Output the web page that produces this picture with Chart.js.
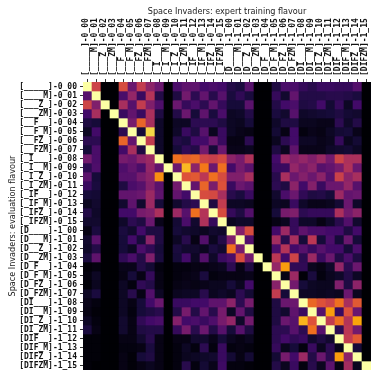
<!DOCTYPE html>
<html>
<head>
<meta charset="utf-8">
<style>
  html, body { margin: 0; padding: 0; background: #fff; }
  canvas { display: block; }
</style>
<script src="https://cdn.jsdelivr.net/npm/chart.js@4/dist/chart.umd.min.js"></script>
</head>
<body>
<canvas id="flavourChart" width="378" height="378"></canvas>
<script>
const flavourLabels = [
  '[_____]-0_00', '[____M]-0_01', '[___Z_]-0_02', '[___ZM]-0_03',
  '[__F__]-0_04', '[__F_M]-0_05', '[__FZ_]-0_06', '[__FZM]-0_07',
  '[_I___]-0_08', '[_I__M]-0_09', '[_I_Z_]-0_10', '[_I_ZM]-0_11',
  '[_IF__]-0_12', '[_IF_M]-0_13', '[_IFZ_]-0_14', '[_IFZM]-0_15',
  '[D____]-1_00', '[D___M]-1_01', '[D__Z_]-1_02', '[D__ZM]-1_03',
  '[D_F__]-1_04', '[D_F_M]-1_05', '[D_FZ_]-1_06', '[D_FZM]-1_07',
  '[DI___]-1_08', '[DI__M]-1_09', '[DI_Z_]-1_10', '[DI_ZM]-1_11',
  '[DIF__]-1_12', '[DIF_M]-1_13', '[DIFZ_]-1_14', '[DIFZM]-1_15'
];

// one row per evaluation flavour, one value per training flavour (0-100)
const scores = [
  [100,55,0,0,58,30,52,38,30,0,22,27,27,20,22,20, 13,11,25,0,0,12,22,22,17,14,18,18,17,17,24,0],
  [25,100,0,0,22,40,18,48,13,0,12,32,15,28,14,25, 11,16,11,0,0,17,8,28,13,13,13,14,14,13,11,0],
  [55,35,100,0,45,25,52,35,23,0,30,17,22,15,28,17, 10,10,26,0,0,13,20,22,12,13,20,9,17,6,20,0],
  [20,45,0,100,18,28,18,46,12,0,13,30,10,27,11,22, 6,7,13,0,0,11,8,25,7,8,9,10,12,9,8,0],
  [12,10,0,0,100,33,65,45,7,0,6,6,15,15,15,12, 6,5,10,0,0,7,12,12,5,5,4,4,15,7,13,0],
  [6,20,0,0,15,100,10,90,7,0,7,18,12,25,5,18, 6,4,3,0,0,9,3,20,2,4,3,6,9,10,4,0],
  [15,15,0,0,65,28,100,52,7,0,13,11,20,20,30,18, 3,3,15,0,0,5,15,20,6,6,4,5,17,5,9,0],
  [10,22,0,0,20,45,12,100,7,0,10,16,13,32,10,30, 4,4,5,0,0,12,5,27,4,4,4,7,8,9,6,0],
  [32,22,0,0,33,30,38,42,100,0,68,64,66,55,53,57, 38,33,47,0,0,20,42,36,40,35,42,32,55,46,46,0],
  [15,23,0,0,23,28,22,40,28,100,30,84,38,70,30,68, 20,33,26,0,0,18,18,40,33,38,25,28,33,47,30,0],
  [26,10,0,0,25,25,33,38,75,0,100,60,62,50,68,58, 35,35,45,0,0,14,45,30,36,30,38,25,54,38,45,0],
  [18,11,0,0,12,22,25,36,26,0,32,100,28,65,34,60, 18,30,26,0,0,15,12,38,20,36,18,30,30,40,25,0],
  [10,9,0,0,28,28,30,42,27,0,28,20,100,58,57,45, 14,11,18,0,0,8,22,30,16,12,13,10,42,28,30,0],
  [5,8,0,0,8,27,8,42,10,0,8,13,15,100,12,52, 6,6,5,0,0,6,5,18,7,4,4,5,9,30,7,0],
  [13,7,0,0,20,20,33,35,46,0,42,25,68,48,100,58, 17,12,24,0,0,10,33,35,15,17,17,17,46,32,38,0],
  [8,8,0,0,7,15,12,30,4,0,9,22,8,47,17,100, 5,7,7,0,0,3,5,17,7,7,3,7,14,24,8,0],
  [3,11,0,0,11,8,20,12,12,0,10,8,7,5,8,7, 100,36,58,0,0,20,42,17,27,22,22,20,20,12,20,0],
  [8,26,0,0,10,20,10,38,12,0,6,14,3,24,5,13, 35,100,24,0,0,44,14,45,10,50,10,22,10,30,10,0],
  [7,13,0,0,10,6,22,16,10,0,11,8,8,5,11,8, 68,33,100,0,0,22,48,20,25,18,25,20,20,10,22,0],
  [11,27,0,0,16,22,13,35,11,0,10,20,6,24,7,18, 22,58,32,100,0,50,20,55,15,42,18,30,13,22,12,0],
  [1,2,0,0,4,4,13,9,2,0,2,2,3,3,4,5, 15,3,12,0,100,40,78,16,16,5,3,7,40,15,30,0],
  [2,6,0,0,3,10,3,17,3,0,2,3,4,11,2,3, 3,3,4,0,0,100,3,42,1,11,2,5,7,13,6,0],
  [1,5,0,0,6,2,16,13,3,0,3,4,3,4,5,5, 10,5,20,0,0,37,100,32,10,6,5,5,35,12,38,0],
  [6,11,0,0,6,14,3,24,6,0,5,6,6,14,5,7, 5,15,9,0,0,52,10,100,6,6,5,6,5,30,5,0],
  [4,2,0,0,6,3,10,20,30,0,18,18,20,20,27,27, 38,15,33,0,0,12,30,30,100,66,60,55,68,45,62,0],
  [3,1,0,0,6,2,10,12,14,0,13,33,13,28,14,33, 6,28,12,0,0,12,8,27,18,100,25,78,18,60,30,0],
  [6,2,0,0,8,3,16,20,22,0,36,20,22,18,23,33, 40,7,32,0,0,12,30,25,83,60,100,52,68,48,80,0],
  [11,3,0,0,8,3,12,13,13,0,17,33,14,30,13,25, 10,25,12,0,0,15,15,25,15,68,25,100,15,50,32,0],
  [1,1,0,0,3,3,8,14,3,0,3,3,8,8,4,10, 5,3,5,0,0,15,20,16,18,8,12,8,100,52,62,0],
  [1,1,0,0,2,2,3,11,3,0,2,6,2,15,2,18, 2,3,2,0,0,17,5,10,2,18,5,15,4,100,10,0],
  [1,1,0,0,3,1,10,12,3,0,2,5,6,7,8,18, 9,3,9,0,0,9,33,20,42,13,30,15,78,38,100,0],
  [1,0,0,0,3,1,3,5,3,0,2,14,2,9,4,19, 2,2,1,0,0,13,5,18,2,14,5,26,3,44,5,100]
];

const titleX = 'Space Invaders: expert training flavour';
const titleY = 'Space Invaders: evaluation flavour';

const inferno = [
  [0,0,4], [22,11,57], [66,10,104], [106,23,110], [147,38,103], [187,55,84],
  [221,81,58], [243,120,25], [252,165,10], [246,215,70], [252,255,164]
];

function cellColor(v) {
  const t = Math.min(v / 10, 9.999);
  const i = Math.floor(t), f = t - i;
  const a = inferno[i], b = inferno[i + 1];
  return 'rgb(' + a.map((c, k) => Math.round(c + (b[k] - c) * f)).join(',') + ')';
}

const tickFont = { family: '"DejaVu Sans Mono"', size: 8, weight: 'bold' };

const datasets = scores.map((row, r) => ({
  data: row.map(() => [r, r + 1]),
  backgroundColor: row.map(cellColor),
  borderWidth: 0,
  grouped: false,
  barPercentage: 1,
  categoryPercentage: 1
}));

new Chart(document.getElementById('flavourChart'), {
  type: 'bar',
  data: { labels: flavourLabels, datasets: datasets },
  options: {
    responsive: false,
    animation: false,
    layout: { padding: { top: 5, right: 7, bottom: 8, left: 0 } },
    plugins: { legend: { display: false }, tooltip: { enabled: false } },
    scales: {
      x: {
        position: 'top',
        grid: { offset: false, drawOnChartArea: false, tickLength: 3, color: '#333' },
        border: { display: false },
        ticks: {
          autoSkip: false, minRotation: 90, maxRotation: 90, padding: 3, labelOffset: 8,
          color: '#111', font: tickFont
        },
        title: {
          display: true, text: titleX, color: '#222', padding: { top: 2, bottom: 0 },
          font: { family: '"DejaVu Sans"', size: 8.1 }
        },
        afterFit: s => { s.height = 77; }
      },
      y: {
        type: 'linear',
        reverse: true,
        min: 0,
        max: 32,
        grid: { drawOnChartArea: false, tickLength: 3, color: '#333' },
        border: { display: false },
        afterBuildTicks: s => { s.ticks = flavourLabels.map((l, i) => ({ value: i + 0.5 })); },
        ticks: {
          autoSkip: false, padding: 3, color: '#111', font: tickFont,
          callback: v => flavourLabels[v - 0.5]
        },
        title: {
          display: true, text: titleY, color: '#222', padding: { top: 8, bottom: 0 },
          font: { family: '"DejaVu Sans"', size: 8.1 }
        },
        afterFit: s => { s.width = 83; }
      }
    }
  }
});
</script>
</body>
</html>
